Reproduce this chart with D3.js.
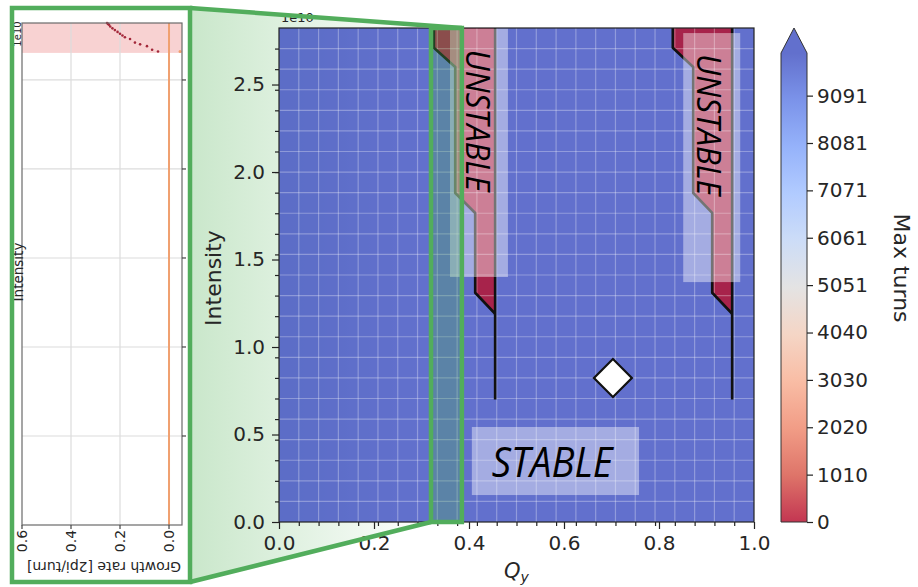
<!DOCTYPE html>
<html>
<head>
<meta charset="utf-8">
<script src="https://cdn.jsdelivr.net/npm/d3@7"></script>
<style>
  body { margin: 0; background: #fff; }
  text { font-family: "DejaVu Sans", sans-serif; fill: #262626; }
  .note { font-family: "Open Sans", "Noto Sans", sans-serif; font-style: italic; fill: #000; }
</style>
</head>
<body>
<svg id="chart" width="918" height="587"></svg>
<script>
// ---- data ----
var qTicks = [0, 0.2, 0.4, 0.6, 0.8, 1.0];
var intensityTicks = [0, 0.5, 1.0, 1.5, 2.0, 2.5];          // x 1e10
var turnTicks = [0, 1010, 2020, 3030, 4040, 5051, 6061, 7071, 8081, 9091];
var growthTicks = [0.6, 0.4, 0.2, 0.0];

// stability boundary, stepping down in intensity (x 1e10)
var stepIntensity = [2.823, 2.71, 2.60, 1.88, 1.766, 1.31, 1.19];
var bandLowEdge  = [0.326, 0.326, 0.371, 0.371, 0.413, 0.413, 0.455];
var bandHighEdge = [0.829, 0.829, 0.872, 0.872, 0.912, 0.912, 0.954];
var bandRightEdge = [0.455, 0.954];
var boundaryEndIntensity = 0.70;
var workingPoint = [0.703, 0.823];

// growth rate along the zoomed slice (left panel)
var growthIntensity = [2.82, 2.815, 2.81, 2.80, 2.79, 2.78, 2.77, 2.76, 2.75, 2.74, 2.73, 2.71, 2.70, 2.69, 2.67, 2.66];
var growthRate      = [0.253, 0.249, 0.245, 0.240, 0.231, 0.221, 0.210, 0.200, 0.190, 0.180, 0.159, 0.139, 0.118, 0.090, 0.069, 0.045];
var stablePoint = [2.66, -0.045];
var unstableFrom = 2.652;

// coolwarm, blue -> red
var coolwarm = ["#3b4cc0", "#5a78e4", "#7b9ff9", "#9ebeff", "#c0d4f5", "#dddcdc",
                "#f2cbb7", "#f7ac8e", "#ee8468", "#d65244", "#b40426"];

var svg = d3.select("#chart");
var defs = svg.append("defs");

var x = d3.scaleLinear().domain([0, 1]).range([279, 754]);
var y = d3.scaleLinear().domain([0, 2.823]).range([522, 28]);
var gx = d3.scaleLinear().domain([0.6, -0.053]).range([22, 182]);
var gy = d3.scaleLinear().domain([0, 2.82]).range([525, 23]);
var cy = d3.scaleLinear().domain([0, 10000]).range([522, 53]);
var turnColor = d3.scaleLinear()
    .domain(coolwarm.map(function(c, i) { return 10000 - i * 1000; }))
    .range(coolwarm);

var zoomQ = [0.32, 0.385];
var green = "#52ad5c";

// green fade between the panel and the zoom window
var fade = defs.append("linearGradient").attr("id", "fade")
    .attr("gradientUnits", "userSpaceOnUse")
    .attr("x1", 190).attr("x2", x(zoomQ[0])).attr("y1", 0).attr("y2", 0);
fade.append("stop").attr("offset", 0).attr("stop-color", "#4caf50").attr("stop-opacity", 0.3);
fade.append("stop").attr("offset", 1).attr("stop-color", "#4caf50").attr("stop-opacity", 0);

svg.append("path")
    .attr("d", "M190,8 L" + x(zoomQ[1]) + "," + y(2.823) + " L" + x(zoomQ[0]) + "," + (y(0) + 1) + " L190,582 Z")
    .attr("fill", "url(#fade)");

// ---------------- left panel (rotated growth-rate plot) ----------------
var lp = svg.append("g");
lp.append("rect").attr("x", 14).attr("y", 10).attr("width", 174).attr("height", 570).attr("fill", "#fff");
lp.append("rect")
    .attr("x", gx(0.6)).attr("y", gy(2.82))
    .attr("width", gx(-0.053) - gx(0.6)).attr("height", gy(unstableFrom) - gy(2.82))
    .attr("fill", "#f7caca").attr("opacity", 0.85);

lp.selectAll(".hg").data(intensityTicks.slice(1)).enter().append("line")
    .attr("x1", gx(0.6)).attr("x2", gx(-0.053))
    .attr("y1", function(d) { return gy(d); }).attr("y2", function(d) { return gy(d); })
    .attr("stroke", "#dcdcdc").attr("stroke-width", 1.2);
lp.selectAll(".vg").data(growthTicks.slice(1, 3)).enter().append("line")
    .attr("x1", function(d) { return gx(d); }).attr("x2", function(d) { return gx(d); })
    .attr("y1", gy(0)).attr("y2", gy(2.82))
    .attr("stroke", "#dcdcdc").attr("stroke-width", 1.2);

lp.append("line")
    .attr("x1", gx(0)).attr("x2", gx(0)).attr("y1", gy(0)).attr("y2", gy(2.82))
    .attr("stroke", "#f0a070").attr("stroke-width", 2);

lp.selectAll(".gdot").data(growthRate).enter().append("circle")
    .attr("cx", function(d) { return gx(d); })
    .attr("cy", function(d, i) { return gy(growthIntensity[i]); })
    .attr("r", 1.3).attr("fill", "#a3283a");
lp.append("circle").attr("cx", gx(stablePoint[1])).attr("cy", gy(stablePoint[0]))
    .attr("r", 1.5).attr("fill", "#f0a070");

lp.append("rect")
    .attr("x", gx(0.6)).attr("y", gy(2.82))
    .attr("width", gx(-0.053) - gx(0.6)).attr("height", gy(0) - gy(2.82))
    .attr("fill", "none").attr("stroke", "#6a6a6a").attr("stroke-width", 1.2);

lp.selectAll(".rt").data(intensityTicks.slice(1)).enter().append("line")
    .attr("x1", gx(-0.053)).attr("x2", gx(-0.053) + 4)
    .attr("y1", function(d) { return gy(d); }).attr("y2", function(d) { return gy(d); })
    .attr("stroke", "#444").attr("stroke-width", 1.2);
lp.selectAll(".bt").data(growthTicks).enter().append("line")
    .attr("x1", function(d) { return gx(d); }).attr("x2", function(d) { return gx(d); })
    .attr("y1", gy(0)).attr("y2", gy(0) + 4)
    .attr("stroke", "#444").attr("stroke-width", 1.2);
lp.selectAll(".bl").data(growthTicks).enter().append("text")
    .attr("transform", function(d) { return "translate(" + gx(d) + "," + (gy(0) + 16) + ") rotate(-90)"; })
    .attr("text-anchor", "middle").attr("dominant-baseline", "central")
    .attr("font-size", 14).text(function(d) { return d.toFixed(1); });
lp.append("text")
    .attr("transform", "translate(" + ((gx(0.6) + gx(-0.053)) / 2 + 2) + "," + 567 + ") rotate(180)")
    .attr("text-anchor", "middle").attr("dominant-baseline", "central")
    .attr("font-size", 14).text("Growth rate [2pi/turn]");
lp.append("text")
    .attr("transform", "translate(17,34) rotate(-90)")
    .attr("text-anchor", "middle").attr("dominant-baseline", "central")
    .attr("font-size", 10).text("1e10");
lp.append("text")
    .attr("transform", "translate(18,272) rotate(-90)")
    .attr("text-anchor", "middle").attr("dominant-baseline", "central")
    .attr("font-size", 13.5).text("Intensity");

// ---------------- main stability map ----------------
var mp = svg.append("g");
mp.append("rect")
    .attr("x", x(0)).attr("y", y(2.823)).attr("width", x(1) - x(0)).attr("height", y(0) - y(2.823))
    .attr("fill", turnColor(10000)).attr("fill-opacity", 0.8);

var line = d3.line().x(function(d) { return x(d[0]); }).y(function(d) { return y(d[1]); });

[[bandLowEdge, bandRightEdge[0]], [bandHighEdge, bandRightEdge[1]]].forEach(function(b) {
  var pts = b[0].map(function(q, i) { return [q, stepIntensity[i]]; });
  var poly = pts.concat([[b[1], stepIntensity[0]]]);
  mp.append("path").attr("d", line(poly) + "Z")
      .attr("fill", turnColor(150)).attr("fill-opacity", 0.8);
});

// cell grid
var gridQ = d3.range(1, 24).map(function(i) { return i / 24; });
var gridI = d3.range(1, 24).map(function(i) { return i * 2.823 / 24; });
mp.selectAll(".gq").data(gridQ).enter().append("line")
    .attr("x1", function(d) { return x(d); }).attr("x2", function(d) { return x(d); })
    .attr("y1", y(0)).attr("y2", y(2.823))
    .attr("stroke", "#fff").attr("stroke-opacity", 0.3).attr("stroke-width", 1.2);
mp.selectAll(".gi").data(gridI).enter().append("line")
    .attr("x1", x(0)).attr("x2", x(1))
    .attr("y1", function(d) { return y(d); }).attr("y2", function(d) { return y(d); })
    .attr("stroke", "#fff").attr("stroke-opacity", 0.3).attr("stroke-width", 1.2);

// boundary lines
[[bandLowEdge, bandRightEdge[0]], [bandHighEdge, bandRightEdge[1]]].forEach(function(b) {
  var pts = b[0].map(function(q, i) { return [q, stepIntensity[i]]; });
  mp.append("path").attr("d", line(pts)).attr("fill", "none")
      .attr("stroke", "#111").attr("stroke-width", 2.6).attr("stroke-linejoin", "round");
  mp.append("path").attr("d", line([[b[1], stepIntensity[0]], [b[1], boundaryEndIntensity]]))
      .attr("fill", "none").attr("stroke", "#111").attr("stroke-width", 2.6);
});

// label boxes
var boxes = [
  { q0: 0.36, q1: 0.482, i0: 1.40, i1: 2.82 },
  { q0: 0.851, q1: 0.971, i0: 1.371, i1: 2.794 },
  { q0: 0.406, q1: 0.758, i0: 0.154, i1: 0.543 }
];
mp.selectAll(".box").data(boxes).enter().append("rect")
    .attr("x", function(d) { return x(d.q0); }).attr("y", function(d) { return y(d.i1); })
    .attr("width", function(d) { return x(d.q1) - x(d.q0); })
    .attr("height", function(d) { return y(d.i0) - y(d.i1); })
    .attr("fill", "#fff").attr("fill-opacity", 0.42);

[[0.421, 2.294], [0.906, 2.269]].forEach(function(p) {
  mp.append("text").attr("class", "note")
      .attr("transform", "translate(" + x(p[0]) + "," + y(p[1]) + ") rotate(90)")
      .attr("text-anchor", "middle").attr("dominant-baseline", "central")
      .attr("font-size", 33).attr("textLength", 142).attr("lengthAdjust", "spacingAndGlyphs")
      .text("UNSTABLE");
});
mp.append("text").attr("class", "note")
    .attr("x", x(0.575)).attr("y", y(0.257))
    .attr("text-anchor", "middle").attr("font-size", 42)
    .attr("textLength", 121).attr("lengthAdjust", "spacingAndGlyphs")
    .text("STABLE");

mp.append("path")
    .attr("d", d3.symbol(d3.symbolSquare, 720)())
    .attr("transform", "translate(" + x(workingPoint[0]) + "," + y(workingPoint[1]) + ") rotate(45)")
    .attr("fill", "#fff").attr("stroke", "#111").attr("stroke-width", 2.2);

mp.append("rect")
    .attr("x", x(0)).attr("y", y(2.823)).attr("width", x(1) - x(0)).attr("height", y(0) - y(2.823))
    .attr("fill", "none").attr("stroke", "#222").attr("stroke-width", 1.2);

function styleAxis(g, size) {
  g.attr("font-family", null).attr("font-size", null);
  g.select(".domain").remove();
  g.selectAll("line").attr("stroke", "#222").attr("stroke-width", 1.2);
  g.selectAll("text").attr("font-size", size).attr("fill", "#262626");
}
mp.append("g").attr("transform", "translate(0," + y(0) + ")")
    .call(d3.axisBottom(x).tickValues(gridQ).tickSize(4).tickFormat(""))
    .call(styleAxis, 20);
mp.append("g").attr("transform", "translate(0," + y(0) + ")")
    .call(d3.axisBottom(x).tickValues(qTicks).tickSize(7).tickPadding(7).tickFormat(d3.format(".1f")))
    .call(styleAxis, 20);
mp.append("g").attr("transform", "translate(" + x(0) + ",0)")
    .call(d3.axisLeft(y).tickValues(gridI).tickSize(4).tickFormat(""))
    .call(styleAxis, 20);
mp.append("g").attr("transform", "translate(" + x(0) + ",0)")
    .call(d3.axisLeft(y).tickValues(intensityTicks).tickSize(7).tickPadding(7).tickFormat(d3.format(".1f")))
    .call(styleAxis, 20);

mp.append("text").attr("x", 281).attr("y", 22).attr("font-size", 13).text("1e10");
mp.append("text")
    .attr("transform", "translate(213," + ((y(0) + y(2.823)) / 2 + 3) + ") rotate(-90)")
    .attr("text-anchor", "middle").attr("dominant-baseline", "central")
    .attr("font-size", 22).text("Intensity");
var ql = mp.append("text").attr("x", (x(0) + x(1)) / 2).attr("y", 578)
    .attr("text-anchor", "middle").attr("font-size", 21).attr("font-style", "italic");
ql.append("tspan").text("Q");
ql.append("tspan").attr("dy", 4).attr("font-size", 14).text("y");

// ---------------- colorbar ----------------
var cb = svg.append("g");
var cbg = defs.append("linearGradient").attr("id", "cbg")
    .attr("x1", 0).attr("x2", 0).attr("y1", 1).attr("y2", 0);
coolwarm.slice().reverse().forEach(function(c, i) {
  cbg.append("stop").attr("offset", i / (coolwarm.length - 1))
      .attr("stop-color", c).attr("stop-opacity", 0.8);
});
var cbx0 = 781, cbx1 = 807;
cb.append("rect").attr("x", cbx0).attr("y", cy(10000)).attr("width", cbx1 - cbx0)
    .attr("height", cy(0) - cy(10000)).attr("fill", "url(#cbg)");
cb.append("path")
    .attr("d", "M" + cbx0 + "," + cy(10000) + " L" + (cbx0 + cbx1) / 2 + "," + (cy(10000) - 25) +
               " L" + cbx1 + "," + cy(10000) + " Z")
    .attr("fill", coolwarm[0]).attr("fill-opacity", 0.8);
cb.append("path")
    .attr("d", "M" + cbx0 + "," + cy(0) + " L" + cbx0 + "," + cy(10000) + " L" + (cbx0 + cbx1) / 2 + "," +
               (cy(10000) - 25) + " L" + cbx1 + "," + cy(10000) + " L" + cbx1 + "," + cy(0) + " Z")
    .attr("fill", "none").attr("stroke", "#333").attr("stroke-width", 1);
cb.append("g").attr("transform", "translate(" + cbx1 + ",0)")
    .call(d3.axisRight(cy).tickValues(turnTicks).tickSize(6).tickPadding(4).tickFormat(d3.format("d")))
    .call(styleAxis, 20);
cb.append("text")
    .attr("transform", "translate(901,268) rotate(90)")
    .attr("text-anchor", "middle").attr("dominant-baseline", "central")
    .attr("font-size", 22).text("Max turns");

// ---------------- green zoom annotation ----------------
var an = svg.append("g").attr("fill", "none").attr("stroke", green).attr("stroke-width", 4.5);
an.append("rect").attr("x", x(zoomQ[0])).attr("y", y(2.823))
    .attr("width", x(zoomQ[1]) - x(zoomQ[0])).attr("height", y(0) - y(2.823))
    .attr("fill", "#4caf50").attr("fill-opacity", 0.3);
an.append("line").attr("x1", 190).attr("y1", 8).attr("x2", x(zoomQ[1])).attr("y2", y(2.823));
an.append("line").attr("x1", 190).attr("y1", 582).attr("x2", x(zoomQ[0])).attr("y2", y(0));
an.append("rect").attr("x", 12).attr("y", 8).attr("width", 178).attr("height", 574);
</script>
</body>
</html>
